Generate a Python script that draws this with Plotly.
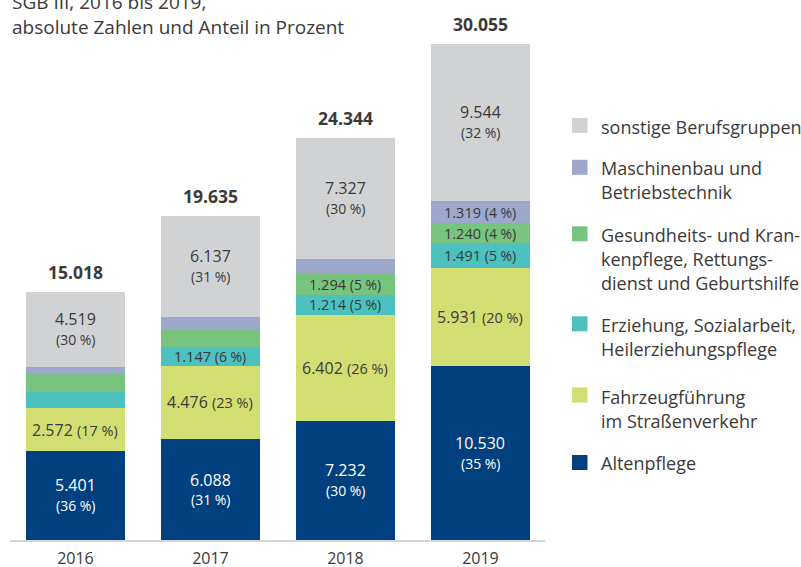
import plotly.graph_objects as go

# ---------------- data ----------------
years = ["2016", "2017", "2018", "2019"]
totals = [15018, 19635, 24344, 30055]

series_names = [
    "Altenpflege",
    "Fahrzeugführung im Straßenverkehr",
    "Erziehung, Sozialarbeit, Heilerziehungspflege",
    "Gesundheits- und Krankenpflege, Rettungsdienst und Geburtshilfe",
    "Maschinenbau und Betriebstechnik",
    "sonstige Berufsgruppen",
]
altenpflege = [5401, 6088, 7232, 10530]
fahrzeug = [2572, 4476, 6402, 5931]
erziehung = [1011, 1147, 1214, 1491]
gesundheit = [1055, 1027, 1294, 1240]
maschinenbau = [460, 760, 875, 1319]
sonstige = [4519, 6137, 7327, 9544]

pct_altenpflege = [36, 31, 30, 35]
pct_fahrzeug = [17, 23, 26, 20]
pct_erziehung = [None, 6, 5, 5]
pct_gesundheit = [None, None, 5, 4]
pct_maschinenbau = [None, None, None, 4]
pct_sonstige = [30, 31, 30, 32]

legend_lines = [
    ["sonstige Berufsgruppen"],
    ["Maschinenbau und", "Betriebstechnik"],
    ["Gesundheits- und Kran-", "kenpflege, Rettungs-", "dienst und Geburtshilfe"],
    ["Erziehung, Sozialarbeit,", "Heilerziehungspflege"],
    ["Fahrzeugführung", "im Straßenverkehr"],
    ["Altenpflege"],
]

# ---------------- style ----------------
FONT = "Open Sans"
DARK = "#3a3a3a"
colors = ["#00407f", "#d3de72", "#4cc1bf", "#78c47e", "#9ea8cc", "#d1d2d4"]
values = [altenpflege, fahrzeug, erziehung, gesundheit, maschinenbau, sonstige]
pcts = [pct_altenpflege, pct_fahrzeug, pct_erziehung, pct_gesundheit,
        pct_maschinenbau, pct_sonstige]
# label style per series: (mode, number size, pct size, colour)
label_style = [
    ("two", 16, 14, "white"),
    ("one", 16, 14.5, DARK),
    ("one", 14.5, 14, DARK),
    ("one", 14.5, 14, DARK),
    ("one", 14.5, 14, DARK),
    ("two", 16, 14, DARK),
]

W, H = 801, 567
L, R, T, B = 10, 545, 40, 540  # plot area in pixels


def px(x):
    return (x - L) / (R - L)


def py(y):
    return (B - y) / (B - T)


def de(v):
    return f"{v:,}".replace(",", ".")


fig = go.Figure()
for name, vals, col in zip(series_names, values, colors):
    fig.add_trace(go.Bar(
        x=years, y=vals, name=name, marker=dict(color=col, line=dict(width=0)),
        width=0.733, hoverinfo="skip", showlegend=False,
    ))

annotations = []
# segment labels (x given as category index)
for i in range(len(years)):
    base = 0
    for s in range(len(values)):
        v = values[s][i]
        mid = base + v / 2
        base += v
        p = pcts[s][i]
        if p is None:
            continue
        mode, ns, ps, col = label_style[s]
        if mode == "two":
            annotations.append(dict(x=i, y=mid, xref="x", yref="y", text=de(v),
                                    showarrow=False, yshift=10,
                                    font=dict(family=FONT, size=ns, color=col)))
            annotations.append(dict(x=i, y=mid, xref="x", yref="y", text=f"({p} %)",
                                    showarrow=False, yshift=-10,
                                    font=dict(family=FONT, size=ps, color=col)))
        else:
            txt = f"{de(v)} <span style='font-size:{ps}px'>({p} %)</span>"
            annotations.append(dict(x=i, y=mid, xref="x", yref="y", text=txt,
                                    showarrow=False,
                                    font=dict(family=FONT, size=ns, color=col)))
# totals
for i, tot in enumerate(totals):
    annotations.append(dict(x=i, y=tot, xref="x", yref="y", text=f"<b>{de(tot)}</b>",
                            showarrow=False, yanchor="bottom", yshift=6,
                            font=dict(family=FONT, size=17.5, color=DARK)))

# title
annotations.append(dict(x=px(10), y=py(1.5), xref="paper", yref="paper",
                        text="SGB III, 2016 bis 2019,", showarrow=False,
                        xanchor="left", yanchor="middle",
                        font=dict(family=FONT, size=19, color=DARK)))
annotations.append(dict(x=px(10), y=py(27), xref="paper", yref="paper",
                        text="absolute Zahlen und Anteil in Prozent", showarrow=False,
                        xanchor="left", yanchor="middle",
                        font=dict(family=FONT, size=19, color=DARK)))

# legend (drawn manually)
shapes = []
legend_first = [126.5, 167.7, 234.5, 324.7, 396.7, 463]
legend_squares = [125.4, 167.3, 233.8, 323.8, 395, 462.5]
legend_colors = colors[::-1]
line_gap = 24.2
for top, sq, lines, col in zip(legend_first, legend_squares, legend_lines, legend_colors):
    shapes.append(dict(type="rect", xref="paper", yref="paper",
                       x0=px(572), x1=px(587.5), y0=py(sq - 7.5), y1=py(sq + 7.5),
                       fillcolor=col, line=dict(width=0)))
    for k, ln in enumerate(lines):
        annotations.append(dict(x=px(599), y=py(top + k * line_gap), xref="paper",
                                yref="paper", text=ln, showarrow=False,
                                xanchor="left", yanchor="middle",
                                font=dict(family=FONT, size=18, color=DARK)))

fig.update_layout(
    width=W, height=H,
    margin=dict(l=L, r=W - R, t=T, b=H - B, pad=0, autoexpand=False),
    barmode="stack",
    paper_bgcolor="white", plot_bgcolor="white",
    font=dict(family=FONT, color=DARK),
    xaxis=dict(type="category", range=[-0.485, 3.478], showline=True, automargin=False,
               linecolor="#d6d6d6", linewidth=2, showgrid=False, zeroline=False,
               ticks="", ticklabelstandoff=3,
               tickfont=dict(family=FONT, size=16, color=DARK), fixedrange=True),
    yaxis=dict(range=[0, 30270], visible=False, fixedrange=True, automargin=False),
    annotations=annotations,
    shapes=shapes,
)

fig.write_html("out.html", config={"displayModeBar": False},
               post_script="document.body.style.margin='0';document.body.style.overflow='hidden';")
